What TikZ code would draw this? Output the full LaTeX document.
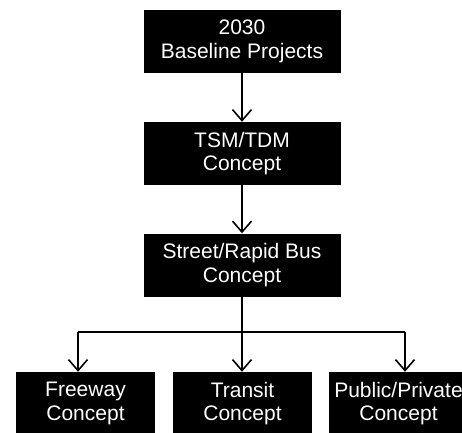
\documentclass[tikz,border=0pt]{standalone}
\usepackage{fontspec}
\setmainfont{Liberation Sans}
\usepackage{tikz}
\usetikzlibrary{arrows.meta}
\tikzset{
  concept/.style={fill=black,text=white,align=center,inner sep=0pt,
    minimum height=63pt,font=\fontsize{21}{23.5}\selectfont},
  topbox/.style={concept,minimum width=197pt},
  lowbox/.style={concept,minimum width=139pt},
  flow/.style={line width=1.6pt,-{Straight Barb[length=11pt,width=19pt,line width=1.6pt]}}
}

\begin{document}
\begin{tikzpicture}[x=1pt,y=1pt]
        \useasboundingbox(0,0) rectangle (462,432);
        \node[topbox](base) at (242,390.5) {2030\\Baseline Projects};
        \node[topbox](tsm) at (242,278.5) {TSM/TDM\\Concept};
        \node[topbox](street) at (242,167) {Street/Rapid Bus\\Concept};
        \node[lowbox](freeway) at (85.5,28.5) {Freeway\\Concept};
        \node[lowbox](transit) at (242.5,28.5) {Transit\\Concept};
        \node[lowbox](pubpriv) at (398.5,28.5) {Public/Private\\Concept};
        \coordinate(split) at (242,100);
        \coordinate(lft) at (78,100);
        \coordinate(rgt) at (405,100);
        \draw[flow](base)--(tsm);
        \draw[flow](tsm)--(street);
        \draw[line width=1.6pt](street.south)--(split);
        \draw[line width=1.6pt](lft)--(rgt);
        \draw[flow](lft)--(lft|-freeway.north);
        \draw[flow](split)--(split|-transit.north);
        \draw[flow](rgt)--(rgt|-pubpriv.north);
    \end{tikzpicture}
\end{document}
